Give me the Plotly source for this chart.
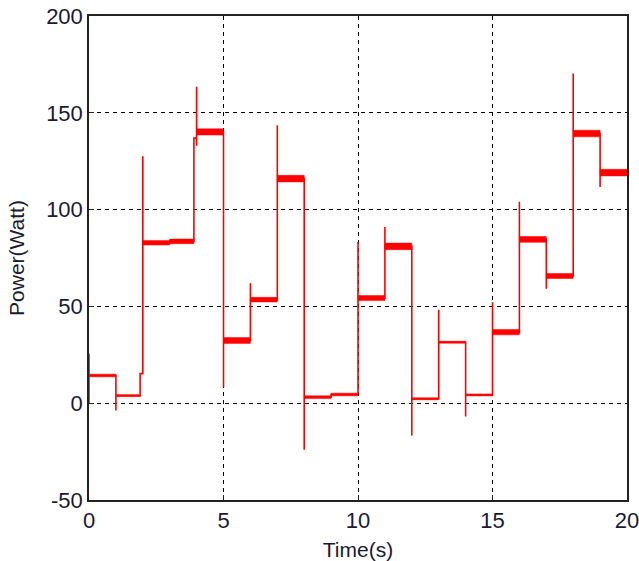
import plotly.graph_objects as go

# Step events (time of change, settled level, spike max, spike min, ripple half-amplitude)
ev_t = [0, 1, 1.9, 2, 3, 3.9, 4, 5, 6, 7, 8, 9, 10, 11, 12, 13, 14, 15, 16, 17, 18, 19]
ev_level = [14.3, 3.9, 15.3, 82.9, 83.6, 136.9, 140.1, 32.4, 53.5, 116.0, 3.1, 4.5,
            54.3, 81.0, 2.3, 31.5, 4.3, 36.7, 84.6, 65.7, 139.3, 119.1]
ev_hi = [25.5, 7.6, 15.3, 127.6, 83.6, 136.9, 163.4, 39.3, 62.0, 143.6, 13.5, 4.5,
         83.3, 91.0, 11.7, 48.3, 5.7, 52.2, 104.0, 65.7, 170.3, 119.1]
ev_lo = [0.0, -3.8, 3.9, 80.0, 83.6, 84.0, 133.0, 8.3, 53.0, 109.0, -24.0, 3.1,
         46.0, 77.4, -16.7, 28.0, -6.9, 32.4, 80.3, 59.1, 133.2, 111.7]
ripple = [0.7, 0.5, 0.0, 1.2, 1.2, 0.0, 1.6, 1.5, 1.2, 1.7, 0.7, 0.7,
          1.3, 1.7, 0.5, 0.5, 0.5, 1.4, 1.5, 1.3, 1.7, 1.7]
t_end = 20

x_ticks = [0, 5, 10, 15, 20]
y_ticks = [-50, 0, 50, 100, 150, 200]

# main signal path
xs, ys = [], []
prev = 0.0
for i, t in enumerate(ev_t):
    xs += [t, t, t, t]
    ys += [prev, ev_hi[i], ev_lo[i], ev_level[i]]
    prev = ev_level[i]
xs.append(t_end)
ys.append(prev)

# ripple bands
bx, by = [], []
ends = ev_t[1:] + [t_end]
for i, t in enumerate(ev_t):
    r = ripple[i]
    if r <= 0:
        continue
    t1 = ends[i]
    lv = ev_level[i]
    bx += [t, t1, t1, t, t, None]
    by += [lv - r, lv - r, lv + r, lv + r, lv - r, None]

RED = "#ff0000"
fig = go.Figure()
fig.add_trace(go.Scatter(x=bx, y=by, mode="lines", fill="toself", fillcolor=RED,
                         line=dict(color=RED, width=0.5), hoverinfo="skip",
                         showlegend=False))
fig.add_trace(go.Scatter(x=xs, y=ys, mode="lines", line=dict(color=RED, width=1.6),
                         showlegend=False))

font_fam = "Liberation Sans, Arial, sans-serif"
txt_col = "#1a1a33"
axis_common = dict(
    showline=True, linecolor="#222222", linewidth=1.5, mirror=True,
    ticks="inside", ticklen=5, tickcolor="#222222",
    showgrid=True, gridcolor="#000000", gridwidth=1, griddash="4px,4px",
    zeroline=False, automargin=False, ticklabeloverflow="allow",
    tickfont=dict(family=font_fam, size=22, color=txt_col),
)
fig.update_layout(
    width=639, height=561,
    margin=dict(l=89, r=12, t=16, b=61),
    paper_bgcolor="white", plot_bgcolor="white",
    xaxis=dict(range=[0, 20], tickvals=x_ticks, ticktext=[str(v) for v in x_ticks],
               title=dict(text="Time(s)", standoff=12,
                          font=dict(family=font_fam, size=21, color=txt_col)),
               **axis_common),
    yaxis=dict(range=[-50, 200], tickvals=y_ticks, ticktext=[str(v) for v in y_ticks],
               title=dict(text="Power(Watt)", standoff=16,
                          font=dict(family=font_fam, size=21, color=txt_col)),
               **axis_common),
)
fig.write_html("out.html", config={"displayModeBar": False},
               post_script="document.body.style.margin='0px';document.body.style.overflow='hidden';")
